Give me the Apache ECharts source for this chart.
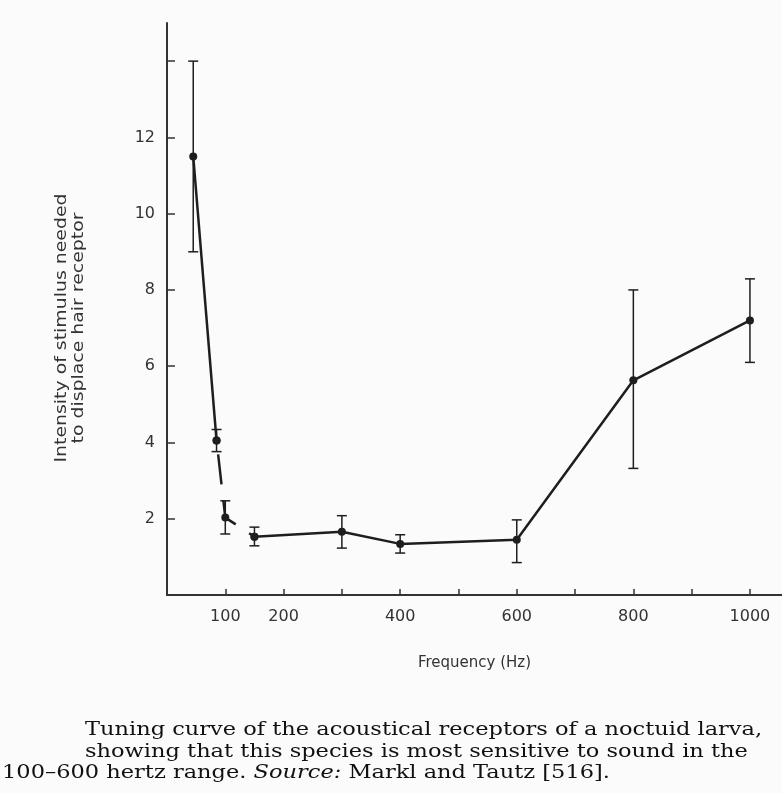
<!DOCTYPE html>
<html>
<head>
<meta charset="utf-8">
<script src="https://cdn.jsdelivr.net/npm/echarts@6/dist/echarts.min.js"></script>
<style>
  html, body { margin: 0; padding: 0; background: #fbfbfb; }
  #chart { width: 782px; height: 793px; }
</style>
</head>
<body>
<div id="chart"></div>
<script>
// ---- data ----
const frequencies = [45, 85, 100, 150, 300, 400, 600, 800, 1000];
const intensity   = [11.5, 4.05, 2.03, 1.53, 1.66, 1.34, 1.45, 5.63, 7.2];
const errLow      = [9.0, 3.76, 1.6, 1.29, 1.23, 1.1, 0.85, 3.32, 6.1];
const errHigh     = [14.0, 4.34, 2.47, 1.78, 2.08, 1.58, 1.97, 8.0, 8.29];
const xTickValues  = [100, 200, 300, 400, 500, 600, 700, 800, 900, 1000];
const xLabelValues = [100, 200, 400, 600, 800, 1000];
const yTickValues  = [2, 4, 6, 8, 10, 12, 14];
const yLabelValues = [2, 4, 6, 8, 10, 12];
const xTitle = 'Frequency (Hz)';
const yTitle = 'Intensity of stimulus needed\nto displace hair receptor';
const captionLines = [
  'Tuning curve of the acoustical receptors of a noctuid larva,',
  'showing that this species is most sensitive to sound in the',
  '100\u2013600 hertz range. '
];
const captionSource = 'Source:';
const captionTail = ' Markl and Tautz [516].';

// segments: solid start, broken middle, solid rest
const solidA = [0, 1].map(i => [frequencies[i], intensity[i]]);
const brokenB = [1, 2, 3].map(i => [frequencies[i], intensity[i]]);
const solidC = [3, 4, 5, 6, 7, 8].map(i => [frequencies[i], intensity[i]]);
const errData = frequencies.map((f, i) => [f, errLow[i], errHigh[i]]);

const ink = '#1e1e1e';
const chart = echarts.init(document.getElementById('chart'), null, { renderer: 'canvas' });

const capFont = { fontFamily: 'DejaVu Serif', fontSize: 18, fontWeight: 'normal', fill: '#111' };
const capScale = 1.25;

const option = {
  backgroundColor: '#fbfbfb',
  animation: false,
  grid: { left: 167, right: 0, top: 23, bottom: 198, containLabel: false },
  graphic: [
    { type: 'text', x: 70, y: 328, rotation: Math.PI / 2, scaleX: 1.18, silent: true,
      style: { text: yTitle, align: 'center', verticalAlign: 'middle', lineHeight: 17,
        fontFamily: 'DejaVu Sans', fontSize: 16, fill: '#333' } },
    { type: 'text', x: 85, y: 730, scaleX: capScale, silent: true,
      style: Object.assign({ text: captionLines[0], verticalAlign: 'middle' }, capFont) },
    { type: 'text', x: 85, y: 752, scaleX: capScale, silent: true,
      style: Object.assign({ text: captionLines[1], verticalAlign: 'middle' }, capFont) },
    { type: 'text', x: 2, y: 773, scaleX: capScale, silent: true,
      style: {
        text: '{n|' + captionLines[2] + '}{i|' + captionSource + '}{n|' + captionTail + '}',
        verticalAlign: 'middle',
        rich: {
          n: { fontFamily: 'DejaVu Serif', fontSize: 18, fontWeight: 'normal', fill: '#111' },
          i: { fontFamily: 'DejaVu Serif', fontSize: 18, fontWeight: 'normal', fontStyle: 'italic', fill: '#111' }
        }
      } }
  ],
  xAxis: {
    type: 'value', min: 0, max: 1055,
    name: xTitle, nameLocation: 'middle', nameGap: 61,
    nameTextStyle: { fontFamily: 'DejaVu Sans', fontSize: 15, color: '#333' },
    axisLine: { show: true, lineStyle: { color: '#333', width: 2 } },
    axisTick: { show: true, inside: true, length: 6, customValues: xTickValues, lineStyle: { color: '#333', width: 1.5 } },
    axisLabel: { customValues: xLabelValues, margin: 14, fontFamily: 'DejaVu Sans', fontSize: 16, color: '#333',
      formatter: v => String(v) },
    splitLine: { show: false }
  },
  yAxis: {
    type: 'value', min: 0, max: 15,
    axisLine: { show: true, lineStyle: { color: '#333', width: 2 } },
    axisTick: { show: true, inside: true, length: 8, customValues: yTickValues, lineStyle: { color: '#333', width: 1.5 } },
    axisLabel: { customValues: yLabelValues, margin: 12, fontFamily: 'DejaVu Sans', fontSize: 16, color: '#333',
      formatter: v => String(v) },
    splitLine: { show: false }
  },
  series: [
    {
      type: 'custom', name: 'error', data: errData, z: 3,
      renderItem: function (params, api) {
        const x = api.value(0);
        const lo = api.coord([x, api.value(1)]);
        const hi = api.coord([x, api.value(2)]);
        const w = 5;
        const st = { stroke: ink, lineWidth: 1.5 };
        return { type: 'group', children: [
          { type: 'line', shape: { x1: hi[0], y1: hi[1], x2: lo[0], y2: lo[1] }, style: st },
          { type: 'line', shape: { x1: hi[0] - w, y1: hi[1], x2: hi[0] + w, y2: hi[1] }, style: st },
          { type: 'line', shape: { x1: lo[0] - w, y1: lo[1], x2: lo[0] + w, y2: lo[1] }, style: st }
        ] };
      }
    },
    { type: 'line', data: solidA, symbol: 'circle', symbolSize: 8, z: 4,
      lineStyle: { color: ink, width: 2.5 }, itemStyle: { color: ink } },
    { type: 'line', data: brokenB, symbol: 'circle', symbolSize: 8, z: 4,
      lineStyle: { color: ink, width: 2.5, type: [30, 16], dashOffset: -14 }, itemStyle: { color: ink } },
    { type: 'line', data: solidC, symbol: 'circle', symbolSize: 8, z: 4,
      lineStyle: { color: ink, width: 2.5 }, itemStyle: { color: ink } }
  ]
};
chart.setOption(option);
</script>
</body>
</html>
